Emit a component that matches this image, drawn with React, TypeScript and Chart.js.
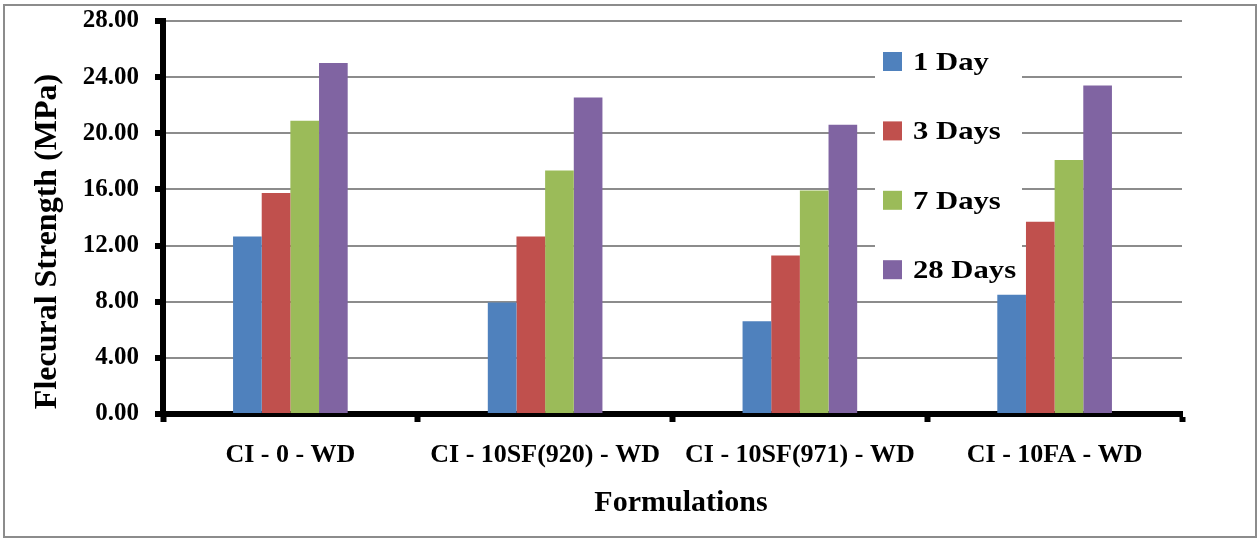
import React, { useEffect, useRef } from "react";
import { Chart, registerables } from "chart.js";

Chart.register(...registerables);

// Formulations on the category axis
const categories = [
  "CI - 0 - WD",
  "CI - 10SF(920) - WD",
  "CI - 10SF(971) - WD",
  "CI - 10FA - WD",
];

// Flexural strength (MPa) per curing age
const day1 = [12.65, 7.95, 6.6, 8.5];
const day3 = [15.75, 12.65, 11.3, 13.7];
const day7 = [20.9, 17.35, 15.93, 18.1];
const day28 = [25.0, 22.55, 20.6, 23.4];

const seriesLabels = ["1 Day", "3 Days", "7 Days", "28 Days"];
const seriesColors = ["#4F81BD", "#C0504D", "#9BBB59", "#8064A2"];

const yTitle = "Flecural Strength (MPa)";
const xTitle = "Formulations";

const FONT = "'Times New Roman', 'Liberation Serif', serif";

// Draws the outer frame, the in-plot legend and the axis titles
const decorations = {
  id: "decorations",
  beforeDatasetsDraw(chart: any) {
    const ctx = chart.ctx;
    ctx.save();
    ctx.fillStyle = "#ffffff";
    ctx.fillRect(875, 35, 147, 255);
    ctx.restore();
  },
  afterDraw(chart: any) {
    const ctx = chart.ctx;
    ctx.save();

    // frame
    ctx.strokeStyle = "#8c8c8c";
    ctx.lineWidth = 2;
    ctx.strokeRect(4, 5, 1252, 532);

    // legend (text slightly widened)
    ctx.textAlign = "left";
    ctx.textBaseline = "middle";
    chart.data.datasets.forEach((ds: any, i: number) => {
      const cy = 61.5 + i * 69.4;
      ctx.fillStyle = ds.backgroundColor;
      ctx.fillRect(883, cy - 9.5, 19, 19);
      ctx.save();
      ctx.translate(913, cy + 1.5);
      ctx.scale(1.18, 1);
      ctx.font = `bold 26px ${FONT}`;
      ctx.fillStyle = "#000";
      ctx.fillText(ds.label, 0, 0);
      ctx.restore();
    });

    // axis titles
    ctx.fillStyle = "#000";
    ctx.textAlign = "center";
    ctx.textBaseline = "middle";
    ctx.font = `bold 30px ${FONT}`;
    ctx.fillText(xTitle, 681, 503);

    ctx.translate(48, 241.5);
    ctx.rotate(-Math.PI / 2);
    ctx.font = `bold 32px ${FONT}`;
    ctx.fillText(yTitle, 0, 0);
    ctx.restore();
  },
};

export default function App() {
  const canvasRef = useRef<HTMLCanvasElement | null>(null);

  useEffect(() => {
    const canvas = canvasRef.current;
    if (!canvas) return;
    const series = [day1, day3, day7, day28];
    const chart = new Chart(canvas, {
      type: "bar",
      data: {
        labels: categories,
        datasets: series.map((values, i) => ({
          label: seriesLabels[i],
          data: values,
          backgroundColor: seriesColors[i],
          borderWidth: 0,
          barPercentage: 1,
          categoryPercentage: 0.45,
        })),
      },
      options: {
        responsive: false,
        animation: false,
        devicePixelRatio: 1,
        layout: { padding: { top: 21, right: 76, bottom: 0, left: 0 } },
        plugins: {
          legend: { display: false },
          tooltip: { enabled: false },
        },
        scales: {
          x: {
            offset: true,
            grid: {
              offset: true,
              drawOnChartArea: false,
              drawTicks: true,
              tickLength: 8,
              tickWidth: 6,
              tickColor: "#000",
            },
            border: { display: true, color: "#000", width: 6 },
            ticks: {
              color: "#000",
              padding: 18,
              maxRotation: 0,
              autoSkip: false,
              font: { family: FONT, size: 26, weight: "bold" },
            },
            afterFit: (scale: any) => {
              scale.height = 125;
              scale.paddingLeft = 0;
              scale.paddingRight = 0;
            },
          },
          y: {
            min: 0,
            max: 28,
            ticks: {
              stepSize: 4,
              color: "#000",
              padding: 16,
              callback: (v: any) => Number(v).toFixed(2),
              font: { family: FONT, size: 25, weight: "bold" },
            },
            grid: {
              color: "#8c8c8c",
              lineWidth: 2,
              drawTicks: true,
              tickLength: 8,
              tickWidth: 6,
              tickColor: "#000",
            },
            border: { display: true, color: "#000", width: 6 },
            afterFit: (scale: any) => {
              scale.width = 163;
              scale.paddingTop = 0;
              scale.paddingBottom = 0;
            },
          },
        },
      },
      plugins: [decorations],
    });
    return () => chart.destroy();
  }, []);

  return (
    <div style={{ position: "absolute", left: 0, top: 0, width: 1258, height: 539, background: "#fff" }}>
      <canvas ref={canvasRef} width={1258} height={539} />
    </div>
  );
}
